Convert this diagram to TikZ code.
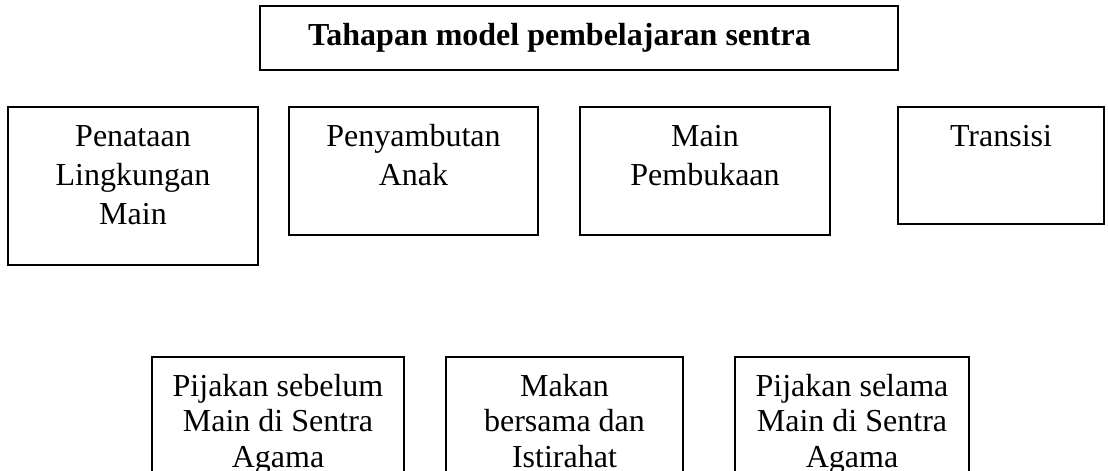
\documentclass[tikz,border=0pt]{standalone}
\usepackage{fontspec}
\setmainfont{Liberation Serif}
\usepackage{tikz}
\newcommand{\stagetext}[3]{\parbox[t][#2][t]{#1}{\centering\rule{0pt}{19.5pt}#3}}
\tikzstyle{stage}=[rectangle, draw=black, line width=1pt, inner sep=0pt,% boxes hang from their top left corner
anchor=north west, font=\fontsize{16}{19.5}\selectfont]
\tikzstyle{lowstage}=[stage, font=\fontsize{16}{17.75}\selectfont]
\tikzstyle{headblk}=[stage, font=\fontsize{16}{19.5}\selectfont\bfseries]

\begin{document}
\begin{tikzpicture}[x=1pt,y=-1pt]
\useasboundingbox (0,0) rectangle (554,235.5);
\clip (0,0) rectangle (554,235.5);
\node[headblk] (tahapan) at (129.5,2.5) {\parbox[t][32pt][t]{319pt}{\rule{0pt}{19.5pt}\hspace*{24pt}Tahapan model pembelajaran sentra}};

\node[stage] (penataan) at (3.5,53) {\stagetext{125pt}{79pt}{Penataan\\Lingkungan\\Main}};
\node[stage] (sambut) at (144,53) {\stagetext{124.5pt}{64pt}{Penyambutan\\Anak}};
\node[stage] (buka) at (289.5,53) {\stagetext{125pt}{64pt}{Main\\Pembukaan}};
\node[stage] (transisi) at (448.5,53) {\stagetext{103pt}{58.5pt}{Transisi}};

\node[lowstage] (sebelum) at (75.5,178) {\stagetext{126pt}{80pt}{Pijakan sebelum\\Main di Sentra\\Agama}};
\node[lowstage] (makan) at (222.5,178) {\stagetext{118.5pt}{80pt}{Makan\\bersama dan\\Istirahat}};
\node[lowstage] (selama) at (367,178) {\stagetext{117pt}{80pt}{Pijakan selama\\Main di Sentra\\Agama}};
\end{tikzpicture}
\end{document}
